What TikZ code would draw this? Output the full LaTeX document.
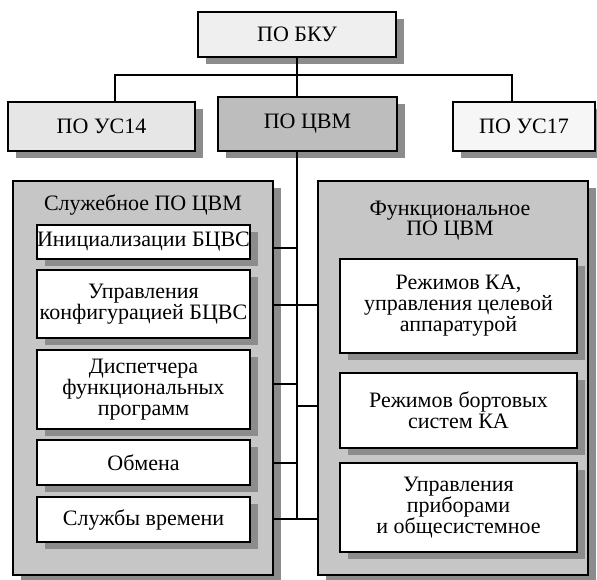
\documentclass[tikz,border=0pt]{standalone}
\usepackage{fontspec}
\setmainfont{Liberation Serif}
\usetikzlibrary{shadows}
\definecolor{shadowc}{HTML}{8C8C8C}
\definecolor{topfill}{HTML}{EFEFEF}
\definecolor{leftfill}{HTML}{E6E6E6}
\definecolor{midfill}{HTML}{BDBDBD}
\definecolor{rightfill}{HTML}{F6F6F6}
\definecolor{panelfill}{HTML}{C6C6C6}
\tikzset{
  box/.style={draw=black, line width=1.8pt, inner sep=0pt, align=center,
    font=\fontsize{22}{21}\selectfont,
    drop shadow={shadow xshift=8pt, shadow yshift=-7pt, fill=shadowc, opacity=1}},
  inbox/.style={box, fill=white},
  panel/.style={box, fill=panelfill},
  title/.style={inner sep=0pt, align=center, font=\fontsize{22}{20}\selectfont},
  link/.style={draw=black, line width=1.6pt}
}
\begin{document}
\begin{tikzpicture}[x=1pt,y=-1pt]
\useasboundingbox (0,0) rectangle (597,579);
% top level
\node[box, fill=topfill, minimum width=198pt, minimum height=45pt] (bku) at (297,34.5) {ПО БКУ};
% second level
\node[box, fill=leftfill, minimum width=187pt, minimum height=49pt] (us14) at (101.5,126.5) {ПО УС14};
\node[box, fill=midfill, minimum width=179pt, minimum height=54pt] (cvm) at (307.5,124) {ПО ЦВМ};
\node[box, fill=rightfill, minimum width=142pt, minimum height=49pt] (us17) at (524,126.5) {ПО УС17};
% panels
\node[panel, minimum width=260pt, minimum height=394pt] (lp) at (143,378) {};
\node[panel, minimum width=270pt, minimum height=394pt] (rp) at (453,378) {};
\node[title] (lt) at (143,205) {Служебное ПО ЦВМ};
\node[title] (rt) at (450,221) {Функциональное\\ПО ЦВМ};
% service software
\node[inbox, minimum width=213pt, minimum height=34pt] (init) at (143.5,242) {Инициализации БЦВС};
\node[inbox, minimum width=213pt, minimum height=68pt] (cfg) at (143.5,304) {Управления\\конфигурацией БЦВС};
\node[inbox, minimum width=213pt, minimum height=79pt] (disp) at (143.5,389.5) {Диспетчера\\функциональных\\программ};
\node[inbox, minimum width=213pt, minimum height=45pt] (obm) at (143.5,462.5) {Обмена};
\node[inbox, minimum width=213pt, minimum height=45pt] (time) at (143.5,519.5) {Службы времени};
% functional software
\node[inbox, minimum width=237pt, minimum height=94pt] (rka) at (458.5,306) {Режимов КА,\\управления целевой\\аппаратурой};
\node[inbox, minimum width=237pt, minimum height=75pt] (rbs) at (458.5,410.5) {Режимов бортовых\\систем КА};
\node[inbox, minimum width=237pt, minimum height=89pt] (upp) at (458.5,507.5) {Управления\\приборами\\и общесистемное};
% connectors
\coordinate (hub) at (297,75);
\coordinate (l) at (115,75);
\coordinate (r) at (512,75);
\coordinate (tend) at (297,519);
\draw[link] (bku.south) -- (hub);
\draw[link] (l |- us14.north) -- (l) -- (r) -- (r |- us17.north);
\draw[link] (hub) -- (hub |- cvm.north);
\draw[link] (hub |- cvm.south) -- (tend);
\draw[link] (lp.east |- 0,248) -- (297,248);
\draw[link] (lp.east |- 0,305) -- (rp.west |- 0,305);
\draw[link] (lp.east |- 0,384) -- (297,384);
\draw[link] (297,406) -- (rp.west |- 0,406);
\draw[link] (lp.east |- 0,463) -- (297,463);
\draw[link] (lp.east |- tend) -- (rp.west |- tend);
\end{tikzpicture}
\end{document}
